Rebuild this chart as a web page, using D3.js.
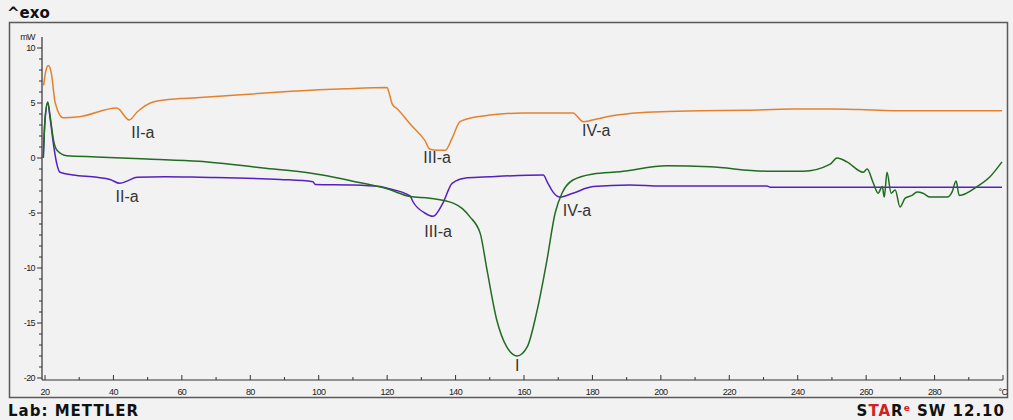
<!DOCTYPE html>
<html>
<head>
<meta charset="utf-8">
<script src="https://cdn.jsdelivr.net/npm/d3@7"></script>
<style>
  body { margin: 0; background: #f2f2f2; }
  svg { display: block; font-family: "Liberation Sans", Arial, sans-serif; }
  .tick-label { font-size: 9px; fill: #222; letter-spacing: -0.6px; }
  .peak-label { font-size: 16px; fill: #333; }
  .stamp { font-family: "DejaVu Sans", Verdana, sans-serif; font-weight: bold; fill: #111; }
</style>
</head>
<body>
<svg id="dsc"></svg>
<script>
// chart size
const width = 1013;
const height = 420;

// orange curve (temperature in C, heat flow in mW)
const tempOrange = [19.6, 20.3, 21.0, 21.8, 23.0, 25.3, 30, 41, 44.6, 47, 51.6, 59.5, 65.3, 75, 88.7, 100, 108, 120,
  120.5, 121.5, 123, 127, 131, 132.5, 135, 137, 139, 141.3, 146.3, 150, 159.7, 174.3, 177.3, 180, 185, 191, 200,
  211.5, 225, 238.6, 250, 258, 268, 280, 299.7];
const mwOrange = [6.6, 8.0, 8.4, 7.8, 5.0, 3.65, 3.75, 4.55, 3.45, 4.2, 5.1, 5.4, 5.5, 5.7, 6.0, 6.2, 6.3, 6.4,
  6.0, 4.9, 4.45, 3.0, 1.6, 0.8, 0.7, 0.7, 1.8, 3.3, 3.75, 3.9, 4.1, 4.1, 3.3, 3.45, 3.8, 4.05, 4.2,
  4.3, 4.35, 4.45, 4.45, 4.4, 4.3, 4.3, 4.3];

// green curve
const tempGreen = [19.5, 20.0, 20.8, 21.5, 22.5, 23.5, 26.4, 35, 50, 65, 83.7, 98.3, 113, 120, 126.7, 132.5,
  139.3, 142, 144.2, 147.2, 149.2, 152.1, 155, 158, 160.9, 163.8, 166.7, 169.1, 171.1, 174.3, 180.2, 188,
  201.8, 214.4, 231, 241.6, 249.5, 251.5, 254.4, 259.1, 260.3, 262, 263.5, 264.7, 265.3, 266.1, 267.3,
  268.5, 269.9, 271.4, 273.4, 274.9, 276.6, 278.7, 283.7, 285.1, 286.3, 287.2, 292.4, 296.2, 299.7];
const mwGreen = [0.0, 3.5, 5.1, 3.8, 1.6, 0.7, 0.2, 0.1, -0.1, -0.3, -0.9, -1.4, -2.3, -2.8, -3.5, -3.65,
  -4.1, -4.6, -5.35, -6.85, -10.2, -14.8, -17.2, -18.0, -17.2, -13.9, -9.3, -5.0, -3.2, -2.0, -1.45, -1.25,
  -0.7, -0.8, -1.2, -1.2, -0.55, 0.0, -0.35, -1.3, -1.0, -2.2, -3.2, -2.6, -3.55, -1.3, -3.2,
  -2.9, -4.45, -3.65, -3.4, -3.1, -3.2, -3.55, -3.55, -3.1, -2.1, -3.4, -2.6, -1.7, -0.35];

// purple curve
const tempPurple = [19.5, 20.0, 20.8, 21.5, 22.5, 23.5, 24.4, 28.2, 35.2, 39, 41.9, 44, 46.9, 55, 65.3, 88.7, 98.3,
  99, 110, 117.9, 120, 126.7, 127.6, 131, 133.4, 136.3, 139, 143.4, 150, 165.6, 167, 168.5, 170.5, 174.3,
  180.2, 191, 200, 231, 232, 299.7];
const mwPurple = [0.0, 3.4, 5.0, 3.6, 1.2, -0.6, -1.3, -1.55, -1.75, -1.95, -2.3, -2.1, -1.75, -1.7, -1.75, -1.95, -2.15,
  -2.4, -2.45, -2.6, -2.75, -3.45, -4.0, -5.0, -5.3, -4.1, -2.3, -1.8, -1.7, -1.55, -2.3, -3.1, -3.55, -3.2,
  -2.6, -2.45, -2.55, -2.55, -2.65, -2.65];

// peak annotations
const labelText = ["II-a", "II-a", "III-a", "III-a", "IV-a", "IV-a", "I"];
const labelTemp = [48.6, 44.0, 134.6, 134.9, 181.1, 175.5, 158];
const labelMw = [2.35, -3.45, 0.1, -6.65, 2.55, -4.75, -18.85];

// axis ticks
const xTicks = [20, 40, 60, 80, 100, 120, 140, 160, 180, 200, 220, 240, 260, 280, 300];
const xTickLabels = ["20", "40", "60", "80", "100", "120", "140", "160", "180", "200", "220", "240", "260", "280", "\u00B0C"];
const yTicks = [10, 5, 0, -5, -10, -15, -20];

const svg = d3.select("#dsc")
  .attr("width", width)
  .attr("height", height);

const xScale = d3.scaleLinear().domain([20, 300]).range([45, 1003]);
const yScale = d3.scaleLinear().domain([-20, 10]).range([378, 48]);

drawFrame();
drawAxis();
drawCurve(tempPurple, mwPurple, "#5520c0");
drawCurve(tempGreen, mwGreen, "#226b22");
drawCurve(tempOrange, mwOrange, "#e3822e");
drawLabels();

function drawFrame() {
  svg.append("rect")
    .attr("width", width)
    .attr("height", height)
    .attr("fill", "#f2f2f2");

  svg.append("rect")
    .attr("x", 9.5)
    .attr("y", 22.5)
    .attr("width", 998)
    .attr("height", 375)
    .attr("fill", "none")
    .attr("stroke", "#5a5a5a")
    .attr("stroke-width", 1.5);

  svg.append("text")
    .attr("class", "stamp")
    .attr("x", 7)
    .attr("y", 18)
    .style("font-size", "15px")
    .text("^exo");

  svg.append("text")
    .attr("class", "stamp")
    .attr("x", 8)
    .attr("y", 416)
    .style("font-size", "15px")
    .style("letter-spacing", "1px")
    .text("Lab: METTLER");

  // software stamp, bottom right
  let stamp = svg.append("text")
    .attr("class", "stamp")
    .attr("x", 1005)
    .attr("y", 416)
    .attr("text-anchor", "end")
    .style("font-size", "15px")
    .style("letter-spacing", "1px");
  stamp.append("tspan").text("S");
  stamp.append("tspan").style("fill", "#d42020").text("TA");
  stamp.append("tspan").text("R");
  stamp.append("tspan").style("fill", "#d42020").style("font-size", "9px").attr("dy", -5).text("e");
  stamp.append("tspan").attr("dy", 5).text(" SW  12.10");
}

function drawAxis() {
  let xMinor = d3.range(30, 300, 20);
  let yMinor = d3.range(-20, 11, 1).filter(d => d % 5 != 0);

  let axes = svg.append("g").attr("id", "axes");

  // axis lines
  axes.append("line")
    .attr("x1", 42).attr("x2", 42)
    .attr("y1", yScale(11)).attr("y2", 380)
    .attr("stroke", "#333").attr("stroke-width", 1.2);
  axes.append("line")
    .attr("x1", 42).attr("x2", xScale(300))
    .attr("y1", 380).attr("y2", 380)
    .attr("stroke", "#333").attr("stroke-width", 1.2);

  // x ticks point up into the plot
  axes.selectAll("line.xmajor")
    .data(xTicks)
    .enter()
    .append("line")
    .attr("class", "xmajor")
    .attr("x1", d => xScale(d)).attr("x2", d => xScale(d))
    .attr("y1", 380).attr("y2", 375)
    .attr("stroke", "#333");
  axes.selectAll("line.xminor")
    .data(xMinor)
    .enter()
    .append("line")
    .attr("class", "xminor")
    .attr("x1", d => xScale(d)).attr("x2", d => xScale(d))
    .attr("y1", 380).attr("y2", 377)
    .attr("stroke", "#333");

  axes.selectAll("text.xlabel")
    .data(xTicks)
    .enter()
    .append("text")
    .attr("class", "tick-label xlabel")
    .attr("x", d => xScale(d))
    .attr("y", 395)
    .attr("text-anchor", "middle")
    .text((d, i) => xTickLabels[i]);

  // y ticks point left
  axes.selectAll("line.ymajor")
    .data(yTicks)
    .enter()
    .append("line")
    .attr("class", "ymajor")
    .attr("x1", 37).attr("x2", 42)
    .attr("y1", d => yScale(d)).attr("y2", d => yScale(d))
    .attr("stroke", "#333");
  axes.selectAll("line.yminor")
    .data(yMinor)
    .enter()
    .append("line")
    .attr("class", "yminor")
    .attr("x1", 39).attr("x2", 42)
    .attr("y1", d => yScale(d)).attr("y2", d => yScale(d))
    .attr("stroke", "#333");

  axes.selectAll("text.ylabel")
    .data(yTicks)
    .enter()
    .append("text")
    .attr("class", "tick-label ylabel")
    .attr("x", 35)
    .attr("y", d => yScale(d))
    .attr("dy", "0.35em")
    .attr("text-anchor", "end")
    .text(d => d);

  axes.append("text")
    .attr("class", "tick-label")
    .attr("x", 35)
    .attr("y", yScale(11))
    .attr("dy", "0.35em")
    .attr("text-anchor", "end")
    .text("mW");
}

function drawCurve(temps, values, color) {
  let points = temps.map((t, i) => [t, values[i]]);
  let line = d3.line()
    .x(d => xScale(d[0]))
    .y(d => yScale(d[1]))
    .curve(d3.curveMonotoneX);

  svg.append("path")
    .datum(points)
    .attr("d", line)
    .attr("fill", "none")
    .attr("stroke", color)
    .attr("stroke-width", 1.5)
    .attr("stroke-linejoin", "round");
}

function drawLabels() {
  svg.append("g")
    .attr("id", "labels")
    .selectAll("text")
    .data(labelText)
    .enter()
    .append("text")
    .attr("class", "peak-label")
    .attr("x", (d, i) => xScale(labelTemp[i]))
    .attr("y", (d, i) => yScale(labelMw[i]))
    .attr("dy", "0.35em")
    .attr("text-anchor", "middle")
    .text(d => d);
}
</script>
</body>
</html>
